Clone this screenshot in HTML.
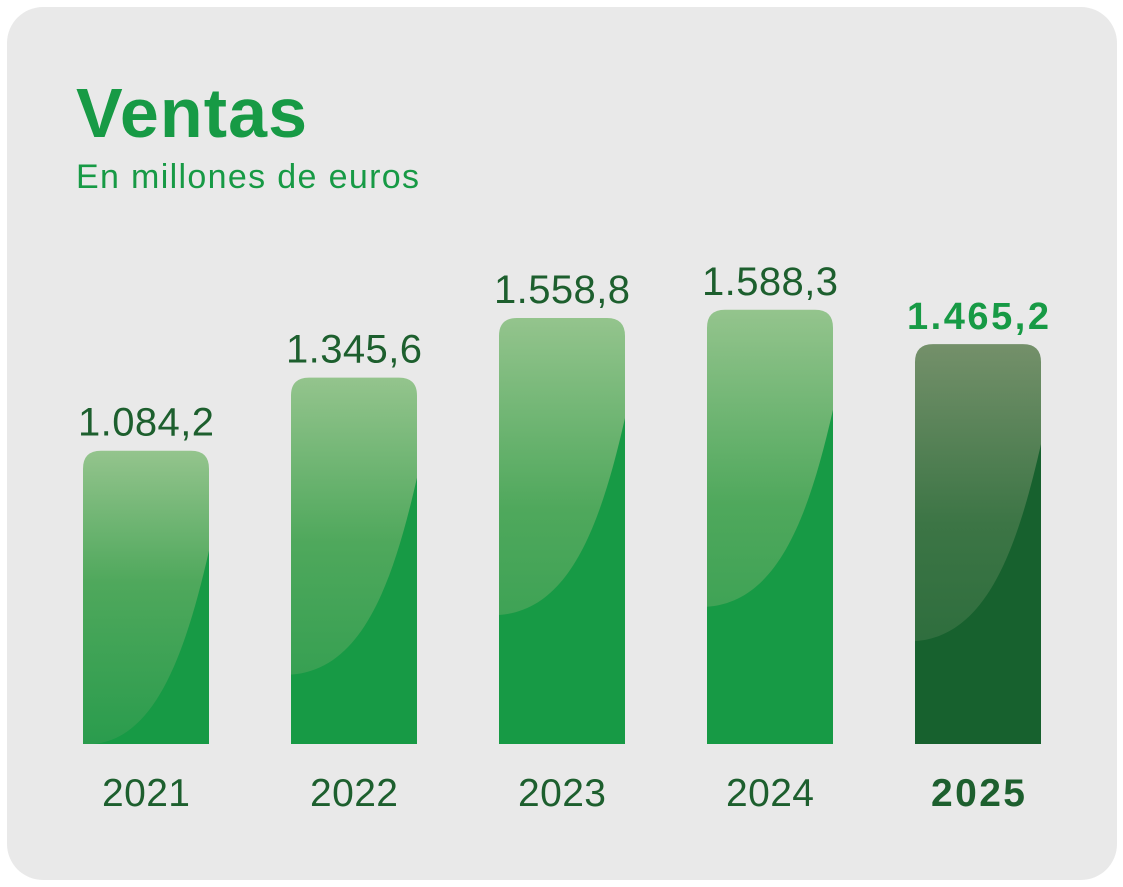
<!DOCTYPE html>
<html><head><meta charset="utf-8"><style>
html,body{margin:0;padding:0;background:#fff;width:1123px;height:887px;overflow:hidden;font-family:"Liberation Sans",sans-serif}
</style></head><body>
<svg width="1123" height="887" xmlns="http://www.w3.org/2000/svg">
<defs>
<linearGradient id="gGreen" x1="0" y1="0" x2="0" y2="1">
<stop offset="0" stop-color="#94c48d"/><stop offset="0.45" stop-color="#4fa85c"/><stop offset="1" stop-color="#2a9c4d"/></linearGradient>
<linearGradient id="gDark" x1="0" y1="0" x2="0" y2="1">
<stop offset="0" stop-color="#74906a"/><stop offset="0.45" stop-color="#3c7545"/><stop offset="1" stop-color="#236837"/></linearGradient>
</defs>
<rect x="7" y="7" width="1110" height="873" rx="36" fill="#e9e9e9"/>
<text x="76" y="137" font-size="70" font-weight="bold" fill="#179a45" textLength="231">Ventas</text>
<text x="76" y="188" font-size="34" fill="#179a45" textLength="343">En millones de euros</text>
<g id="bars"></g>
</svg>
<script>
const categories=["2021","2022","2023","2024","2025"];
const values=[1084.2,1345.6,1558.8,1588.3,1465.2];
const valueLabels=["1.084,2","1.345,6","1.558,8","1.588,3","1.465,2"];
const NS="http://www.w3.org/2000/svg";
const g=document.getElementById("bars");
const baseY=744, barW=126;
function xPos(i){return 83+i*208;}
function yPos(v){return baseY-(v*0.2797-10);}
function mk(t,a){const e=document.createElementNS(NS,t);for(const k in a)e.setAttribute(k,a[k]);g.appendChild(e);return e;}
categories.forEach((c,i)=>{
  const last=i===categories.length-1;
  const x=xPos(i), y=yPos(values[i]), h=baseY-y, r=18;
  const d=`M${x},${baseY} V${y+r} Q${x},${y} ${x+r},${y} H${x+barW-r} Q${x+barW},${y} ${x+barW},${y+r} V${baseY} Z`;
  const bar=mk("path",{d:d,fill:last?"url(#gDark)":"url(#gGreen)"});
  
  
  const rightY=y+100, leftY=Math.min(baseY,y+297);
  const lx=leftY>=baseY?x+10:x;
  const sh=mk("path",{d:`M${x+barW},${rightY} C${x+barW-25},${rightY+110} ${x+70},${leftY-5} ${lx},${leftY} V${baseY} H${x+barW} Z`,fill:last?"#17612e":"#179a45"});
  
  
  const vl=mk("text",{x:x+barW/2,y:y-15,"text-anchor":"middle","font-size":last?38:40,"font-weight":last?"bold":"normal",fill:last?"#179a45":"#1d5f2e",textLength:last?142:136});
  vl.textContent=valueLabels[i];
  
  
  const cl=mk("text",{x:x+barW/2,y:806,"text-anchor":"middle","font-size":39,"font-weight":last?"bold":"normal",fill:"#1d5f2e",textLength:last?94:88});
  cl.textContent=c;
  
  
});
</script>
</body></html>
